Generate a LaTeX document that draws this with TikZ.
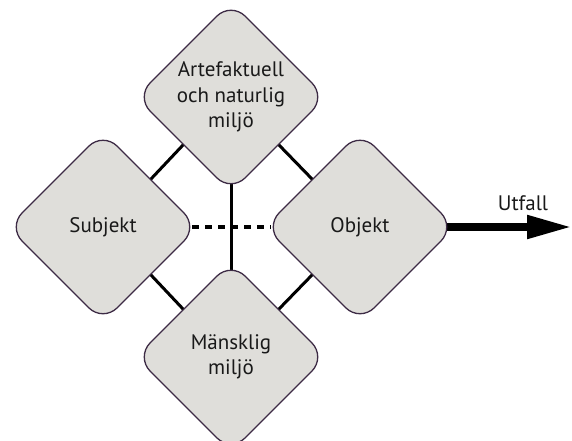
\documentclass[tikz,border=0pt]{standalone}
\usepackage{fontspec}
\setmainfont{PT Sans}
\usetikzlibrary{shapes.geometric,arrows.meta,backgrounds}
\definecolor{boxfill}{HTML}{DFDEDA}
\definecolor{boxline}{HTML}{3D2B45}
\begin{document}
\begin{tikzpicture}[x=1pt,y=-1pt,
  rbox/.style={diamond, aspect=1, minimum width=190pt, minimum height=190pt,
    inner sep=0pt, outer sep=0pt, rounded corners=20pt, fill=boxfill,
    draw=boxline, line width=1.3pt, align=center,
    font=\fontsize{21}{25.5}\selectfont, text=black!90},
  link/.style={line width=3pt, black},
  dlink/.style={line width=4pt, black, dash pattern=on 7pt off 6pt}]
\useasboundingbox (0,0) rectangle (572,441);
\node[rbox] (T) at (231,97) {Artefaktuell\\och naturlig\\miljö};
\node[rbox] (S) at (103,227) {Subjekt};
\node[rbox] (O) at (360,227) {Objekt};
\node[rbox] (M) at (231,357) {Mänsklig\\miljö};
\coordinate (end) at (572,227);
\node[font=\fontsize{21}{25}\selectfont, text=black!90] (U) at (523,203) {Utfall};
\begin{scope}[on background layer]
\draw[link] (S.north east) -- (T.south west);
\draw[link] (T.south east) -- (O.north west);
\draw[link] (S.south east) -- (M.north west);
\draw[link] (O.south west) -- (M.north east);
\draw[link] ([yshift=10pt]T.south) -- ([yshift=-10pt]M.north);
\draw[dlink] ([xshift=-6pt]S.east) -- ([xshift=6pt]O.west);
\draw[line width=8pt, -{Triangle[length=45pt,width=22pt]}] ([xshift=-10pt]O.east) -- (end);
\end{scope}
\end{tikzpicture}
\end{document}
